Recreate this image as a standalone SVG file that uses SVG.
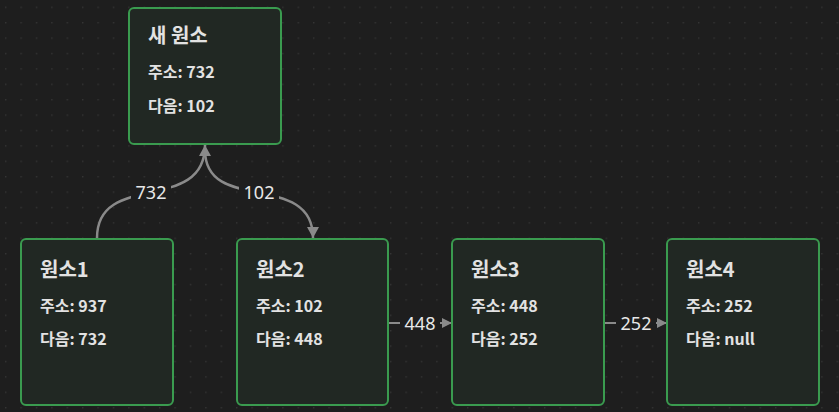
<svg xmlns="http://www.w3.org/2000/svg" width="839" height="412" viewBox="0 0 839 412">
<style>
.box{fill:#212823;stroke:#3a9b4f;stroke-width:2}
.t{font-family:"Noto Sans CJK KR","Noto Sans",sans-serif;font-weight:bold;fill:#e2e2e2}
.h{font-size:20px}
.s{font-size:16px}
.edge{fill:none;stroke:#8a8a8a;stroke-width:2.5}
.lbl{font-family:"Noto Sans","Noto Sans CJK KR",sans-serif;font-size:18px;fill:#e8e8e8;text-anchor:middle}
.lb{fill:#1e1e1e}
</style>
<defs>
<pattern id="dots" x="5" y="6.6" width="15.4" height="15.4" patternUnits="userSpaceOnUse">
<rect x="0" y="0" width="1.4" height="1.4" fill="#343434"/>
</pattern>
<marker id="arr" viewBox="0 0 10 10" refX="10" refY="5" markerWidth="10" markerHeight="10" markerUnits="userSpaceOnUse" orient="auto">
<path d="M0,0 L10,5 L0,10 Z" fill="#8a8a8a"/>
</marker>
<marker id="arrV" viewBox="0 0 11 12" refX="11" refY="6" markerWidth="11" markerHeight="12" markerUnits="userSpaceOnUse" orient="auto">
<path d="M0,0 L11,6 L0,12 Z" fill="#8a8a8a"/>
</marker>
</defs>
<rect width="839" height="412" fill="#1e1e1e"/>
<rect width="839" height="412" fill="url(#dots)"/>
<g id="connectors">
<path class="edge" d="M97,238 C97,170 205,215 205,145" marker-end="url(#arrV)"/>
<path class="edge" d="M205,150 C205,215 313,170 313,238" marker-end="url(#arrV)"/>
<rect class="lb" x="131" y="180" width="40" height="24"/>
<text class="lbl" x="151" y="199">732</text>
<rect class="lb" x="239" y="180" width="40" height="24"/>
<text class="lbl" x="259" y="199">102</text>
<path class="edge" d="M388,323 L452,323" marker-end="url(#arr)" style="stroke-width:2"/>
<rect class="lb" x="400" y="311" width="40" height="24"/>
<text class="lbl" x="420" y="330">448</text>
<path class="edge" d="M604,323 L667,323" marker-end="url(#arr)" style="stroke-width:2"/>
<rect class="lb" x="616" y="311" width="40" height="24"/>
<text class="lbl" x="636" y="330">252</text>
</g>
<g id="new">
<rect class="box" x="129" y="8" width="152" height="136" rx="5"/>
<text class="t h" x="148" y="43">새 원소</text>
<text class="t s" x="148" y="78">주소: 732</text>
<text class="t s" x="148" y="111.5">다음: 102</text>
</g>
<g id="n1">
<rect class="box" x="21" y="239" width="152" height="166" rx="5"/>
<text class="t h" x="40" y="277">원소1</text>
<text class="t s" x="40" y="311.5">주소: 937</text>
<text class="t s" x="40" y="345">다음: 732</text>
</g>
<g id="n2">
<rect class="box" x="237" y="239" width="151" height="166" rx="5"/>
<text class="t h" x="256" y="277">원소2</text>
<text class="t s" x="256" y="311.5">주소: 102</text>
<text class="t s" x="256" y="345">다음: 448</text>
</g>
<g id="n3">
<rect class="box" x="452" y="239" width="152" height="166" rx="5"/>
<text class="t h" x="471" y="277">원소3</text>
<text class="t s" x="471" y="311.5">주소: 448</text>
<text class="t s" x="471" y="345">다음: 252</text>
</g>
<g id="n4">
<rect class="box" x="667" y="239" width="152" height="166" rx="5"/>
<text class="t h" x="686" y="277">원소4</text>
<text class="t s" x="686" y="311.5">주소: 252</text>
<text class="t s" x="686" y="345">다음: null</text>
</g>
</svg>
